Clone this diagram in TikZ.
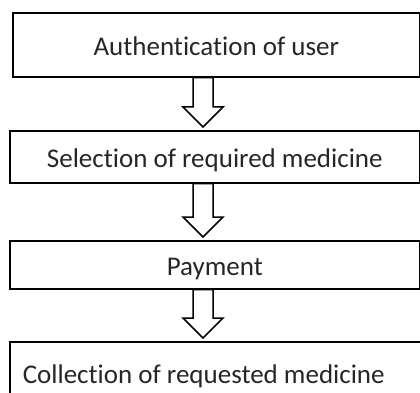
\documentclass[tikz,border=0pt]{standalone}
\usepackage{fontspec}
\setmainfont{Carlito}[Ligatures={NoCommon,NoContextual}]
\usepackage{tikz}
\usetikzlibrary{calc,positioning}

\newcommand{\flowarrow}[2]{%
\draw [blockarrow] let \p1=(spine |- #1.south), \p2=(spine |- #2.north) in
  (\x1-10pt,\y1) -- (\x1-10pt,\y2+23pt) -- (\x1-20pt,\y2+23pt) -- (\x1,\y2+3pt)
  -- (\x1+20pt,\y2+23pt) -- (\x1+10pt,\y2+23pt) -- (\x1+10pt,\y1) -- cycle;}

\begin{document}
\begin{tikzpicture}[x=1pt,y=-1pt,
  stage/.style={draw,line width=1.6pt,anchor=north west,inner sep=0pt,
    text=black!85,font=\fontsize{27}{32}\selectfont,text height=24pt,text depth=2pt},
  blockarrow/.style={draw,fill=white,line width=1.5pt,line join=miter}]
\useasboundingbox (0,0) rectangle (420,393);
\clip (0,0) rectangle (420,393);
\coordinate (spine) at (203,0);
\node [stage,minimum width=407pt,minimum height=64pt] (auth) at (12,12) {Authentication of user};
\node [stage,minimum width=410pt,minimum height=52pt] (select) at (9,130) {Selection of required medicine};
\node [stage,minimum width=410pt,minimum height=48pt] (pay) at (9,240) {Payment};
\node [stage,minimum height=62pt,text width=398pt,align=flush left,inner xsep=13pt] (collect) at (9,341) {Collection of requested medicine};
\flowarrow{auth}{select}
\flowarrow{select}{pay}
\flowarrow{pay}{collect}
\end{tikzpicture}
\end{document}
